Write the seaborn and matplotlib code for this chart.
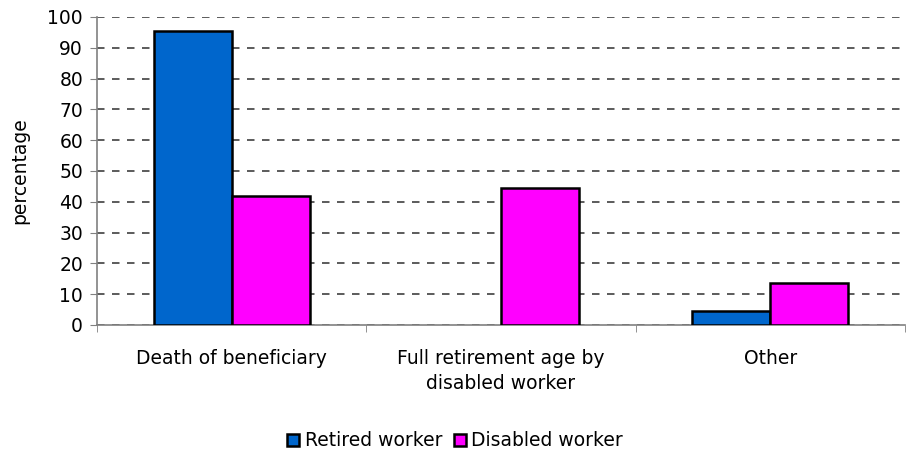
import matplotlib
matplotlib.use("Agg")
import matplotlib.pyplot as plt
import seaborn as sns
import pandas as pd
from matplotlib.patches import Patch

categories = ["Death of beneficiary", "Full retirement age by\ndisabled worker", "Other"]
retired = [95.6, 0.0, 4.4]
disabled = [42.0, 44.5, 13.7]
series = ["Retired worker", "Disabled worker"]
colors = ["#0066CC", "#FF00FF"]

df = pd.DataFrame({
    "category": categories * 2,
    "value": retired + disabled,
    "series": [series[0]] * 3 + [series[1]] * 3,
})

sns.set_style("white")
plt.rcParams["font.family"] = ["DejaVu Sans"]
plt.rcParams["text.color"] = "black"
plt.rcParams["xtick.color"] = "black"
plt.rcParams["ytick.color"] = "black"
plt.rcParams["axes.labelcolor"] = "black"

FS = 13.5

fig = plt.figure(figsize=(9.1, 4.53), dpi=100)
ax = fig.add_axes([97 / 910, (453 - 325) / 453, (905 - 97) / 910, (325 - 17) / 453])

sns.barplot(data=df, x="category", y="value", hue="series", palette=colors,
            saturation=1, width=0.58, edgecolor="black", linewidth=1.8, ax=ax,
            legend=False, zorder=3)
for p in ax.patches:
    if p.get_height() == 0:
        p.set_visible(False)

ax.set_ylim(0, 100)
ax.set_xlim(-0.5, 2.5)
ax.set_yticks(range(0, 101, 10))
ax.yaxis.grid(True, linestyle=(0, (4.5, 4.5)), color="#404040", linewidth=1.2, zorder=0)
ax.set_axisbelow(True)
ax.set_xlabel("")
ax.set_ylabel("percentage", fontsize=FS, labelpad=13)
ax.tick_params(axis="y", labelsize=FS, length=5, color="#808080", direction="out", left=True, pad=5)
ax.tick_params(axis="x", which="major", labelsize=FS, length=0, pad=17)
for lab in ax.get_xticklabels():
    lab.set_linespacing(1.4)
ax.set_xticks([-0.5, 0.5, 1.5, 2.5], minor=True)
ax.tick_params(axis="x", which="minor", length=5, color="#808080", direction="out", bottom=True)
for s in ["top", "right"]:
    ax.spines[s].set_visible(False)
for s in ["left", "bottom"]:
    ax.spines[s].set_color("#808080")
    ax.spines[s].set_linewidth(1.2)

handles = [Patch(facecolor=c, edgecolor="black", linewidth=1.8, label=l) for c, l in zip(colors, series)]
fig.legend(handles=handles, loc="center", bbox_to_anchor=(0.5, (453 - 441) / 453), ncol=2,
           frameon=False, fontsize=FS, handlelength=0.65, handleheight=0.65,
           handletextpad=0.3, columnspacing=0.6, borderpad=0)

fig.savefig("out.png", dpi=100)
